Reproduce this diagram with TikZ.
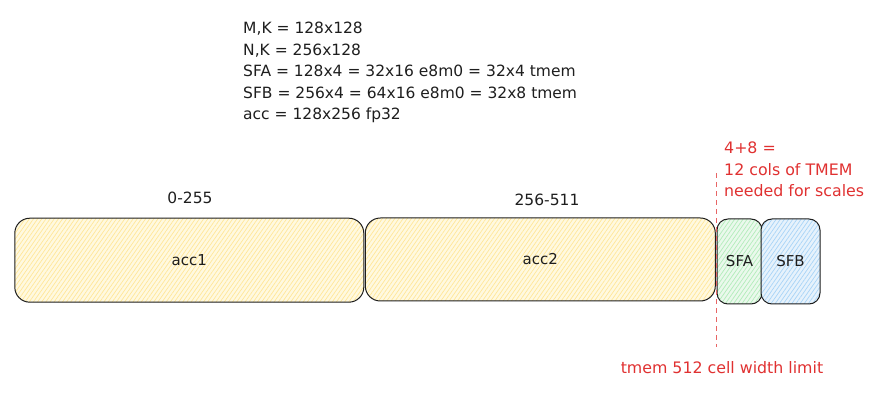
\documentclass[tikz,border=0pt]{standalone}
\usepackage{fontspec}
\setmainfont{DejaVu Sans}
\usetikzlibrary{patterns.meta}
\definecolor{ink}{HTML}{1E1E1E}
\definecolor{redink}{HTML}{E03131}
\definecolor{yelfill}{HTML}{FFF9E0}
\definecolor{yelhatch}{HTML}{FFE799}
\definecolor{grnfill}{HTML}{EAF9EC}
\definecolor{grnhatch}{HTML}{B2ECBA}
\definecolor{blufill}{HTML}{E6F2FC}
\definecolor{bluhatch}{HTML}{A8D4F7}
\tikzset{
  membox/.style={draw=ink, line width=1pt, rounded corners=15pt, inner sep=0pt,
    font=\fontsize{15}{16}\selectfont, text=ink},
  yelbox/.style={membox, preaction={fill=yelfill},
    pattern={Lines[angle=55,distance=3.4pt,line width=0.7pt]}, pattern color=yelhatch},
  grnbox/.style={membox, rounded corners=11pt, preaction={fill=grnfill},
    pattern={Lines[angle=55,distance=3.4pt,line width=0.7pt]}, pattern color=grnhatch},
  blubox/.style={membox, rounded corners=11pt, preaction={fill=blufill},
    pattern={Lines[angle=55,distance=3.4pt,line width=0.7pt]}, pattern color=bluhatch},
  plain/.style={font=\fontsize{15.5}{21.5}\selectfont, text=ink, inner sep=0pt},
  redtxt/.style={font=\fontsize{15.8}{21.5}\selectfont, text=redink, inner sep=0pt},
  limitline/.style={draw=redink!75, line width=1pt, dash pattern=on 5pt off 4pt}
}
\begin{document}
\begin{tikzpicture}[x=1pt,y=-1pt]
\useasboundingbox (0,0) rectangle (887,403);
\node[plain, anchor=north west, align=left] (info) at (243,22)
  {M,K = 128x128\\N,K = 256x128\\SFA = 128x4 = 32x16 e8m0 = 32x4 tmem\\SFB = 256x4 = 64x16 e8m0 = 32x8 tmem\\acc = 128x256 fp32};
\node[yelbox, minimum width=349pt, minimum height=84pt] (acc1) at (189.3,260.2) {acc1};
\node[yelbox, minimum width=350pt, minimum height=83pt] (acc2) at (540.3,259.5) {acc2};
\node[grnbox, minimum width=45pt, minimum height=85pt] (sfa) at (739.5,261.5) {SFA};
\node[blubox, minimum width=59pt, minimum height=85pt] (sfb) at (790.5,261.5) {SFB};
\node[plain] (r1) at (190,198) {0-255};
\node[plain] (r2) at (547,200) {256-511};
\coordinate (ltop) at (716,173);
\coordinate (lbot) at (716,347);
\draw[limitline] (ltop) -- (lbot);
\node[redtxt, anchor=north west, align=left] (note) at (724,142)
  {4+8 =\\12 cols of TMEM\\needed for scales};
\node[redtxt] (limit) at (722,368) {tmem 512 cell width limit};
\end{tikzpicture}
\end{document}
